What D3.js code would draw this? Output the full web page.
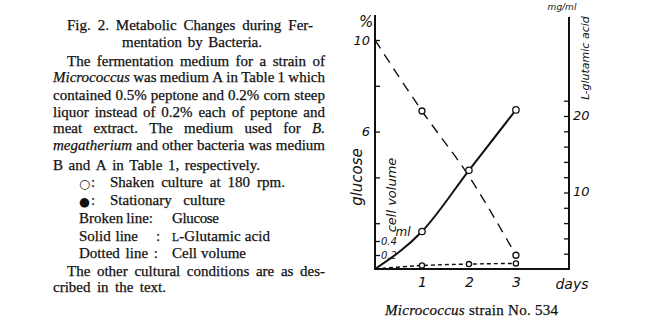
<!DOCTYPE html>
<html><head><meta charset="utf-8">
<script src="https://cdn.jsdelivr.net/npm/d3@7"></script>
<style>
html,body{margin:0;padding:0;background:#fff;}
svg{display:block;}
.txt{font-family:"Liberation Serif","Times New Roman",serif;font-size:15px;fill:#111;stroke:#111;stroke-width:0.25px;}
.hand{font-family:"DejaVu Sans",sans-serif;font-style:italic;fill:#111;}
</style></head>
<body>
<svg id="c" width="646" height="324"></svg>
<script>
// ---------- data ----------
const days        = [0, 1, 2, 3];
const glucose     = [10, 6.9, 4.05, 0.6];     // % (broken line)
const glucoseMark = [false, true, false, true];
const glutamic    = [0, 4.9, 12.9, 20.8];     // mg/ml (solid line)
const glutMark    = [false, true, true, true];
const cellVolume  = [0, 0.05, 0.07, 0.08];    // ml (dotted line)
const cellMark    = [false, true, true, true];
const xTicks      = [1, 2, 3];
const glucoseTicks = [2, 4, 6, 8, 10];
const glucoseLabels = [6, 10];
const glutTicks   = [2, 4, 6, 8, 10, 12, 14, 16, 18, 20, 22];
const glutLabels  = [10, 20];
const cellTicks   = [0.2, 0.4];

const svg = d3.select("#c");

// ---------- caption text (left column) ----------
const textLines = [
  {x0:67, x1:313, y:30, parts:[["Fig. 2.",0],["Metabolic Changes during Fer-",0]]},
  {x0:122, x1:262, y:47, parts:[["mentation by Bacteria.",0]]},
  {x0:67, x1:325, y:66, parts:[["The fermentation medium for a strain of",0]]},
  {x0:53, x1:325, y:82, parts:[["Micrococcus",1],["was medium A in Table 1 which",0]]},
  {x0:53, x1:325, y:100, parts:[["contained 0.5% peptone and 0.2% corn steep",0]]},
  {x0:53, x1:325, y:117, parts:[["liquor instead of 0.2% each of peptone and",0]]},
  {x0:53, x1:325, y:133, parts:[["meat extract. The medium used for",0],["B.",1]]},
  {x0:53, x1:325, y:150, parts:[["megatherium",1],["and other bacteria was medium",0]]},
  {x0:53, x1:260, y:170, parts:[["B and A in Table 1, respectively.",0]]},
  {x0:91, x1:null, y:187, parts:[[":",0]]},
  {x0:110, x1:285, y:187, parts:[["Shaken culture at 180 rpm.",0]]},
  {x0:91, x1:null, y:205, parts:[[":",0]]},
  {x0:110, x1:225, y:205, parts:[["Stationary culture",0]]},
  {x0:79, x1:153, y:223, parts:[["Broken line:",0]]},
  {x0:172, x1:219, y:223, parts:[["Glucose",0]]},
  {x0:79, x1:138, y:241, parts:[["Solid line",0]]},
  {x0:156, x1:null, y:241, parts:[[":",0]]},
  {x0:79, x1:158, y:258, parts:[["Dotted line :",0]]},
  {x0:172, x1:246, y:258, parts:[["Cell volume",0]]},
  {x0:67, x1:325, y:276, parts:[["The other cultural conditions are as des-",0]]},
  {x0:53, x1:166, y:292, parts:[["cribed in the text.",0]]}
];
// legend symbols (open = shaken, filled = stationary)
const legendSymbols = [{sym:"○", y:187}, {sym:"●", y:205}];

const measure = svg.append("text").attr("class","txt").attr("x",-1000).attr("y",-1000);
function wordWidth(w, it){
  measure.text(w).style("font-style", it ? "italic" : "normal");
  return measure.node().getComputedTextLength();
}
const tg = svg.append("g");
textLines.forEach(L => {
  const words = [];
  L.parts.forEach(p => p[0].split(/\s+/).filter(s=>s).forEach(w => words.push({w, it:p[1]})));
  words.forEach(d => d.wd = wordWidth(d.w, d.it));
  if (L.x1 === null) {
    tg.append("text").attr("class","txt").attr("x",L.x0).attr("y",L.y).text(words[0].w);
    return;
  }
  const span = L.x1 - L.x0;
  const sum = d3.sum(words, d=>d.wd);
  if (words.length === 1) {
    tg.append("text").attr("class","txt").attr("x",L.x0).attr("y",L.y)
      .style("font-style", words[0].it?"italic":"normal")
      .attr("textLength", span).attr("lengthAdjust","spacing").text(words[0].w);
    return;
  }
  const minGap = 3;
  let k = 1;
  if (sum + minGap*(words.length-1) > span) k = (span - minGap*(words.length-1))/sum;
  const gap = (span - sum*k)/(words.length-1);
  let x = L.x0;
  words.forEach(d => {
    const t = tg.append("text").attr("class","txt").attr("x",x).attr("y",L.y)
      .style("font-style", d.it?"italic":"normal").text(d.w);
    if (k < 1) t.attr("textLength", d.wd*k).attr("lengthAdjust","spacingAndGlyphs");
    x += d.wd*k + gap;
  });
});
legendSymbols.forEach(s => {
  tg.append("text").attr("x",79).attr("y",s.y+0.5)
    .style("font-family","DejaVu Sans, sans-serif").style("font-size","12.5px").attr("fill","#111")
    .text(s.sym);
});
// L-Glutamic acid with small-cap L
const lg = tg.append("text").attr("class","txt").attr("x",172).attr("y",241)
  .attr("textLength", 98).attr("lengthAdjust","spacing");
lg.append("tspan").style("font-size","11.5px").text("L");
lg.append("tspan").text("-Glutamic acid");
measure.remove();

// ---------- chart ----------
const x  = d3.scaleLinear().domain([0, 4.13]).range([375, 569]);
const yG = d3.scaleLinear().domain([0, 10]).range([269, 40]);
const yA = d3.scaleLinear().domain([0, 20]).range([269, 116]);
const yC = d3.scaleLinear().domain([0, 0.2]).range([269, 255]);

const g = svg.append("g");

// axes lines
g.append("line").attr("x1",x(0)).attr("x2",x(0)).attr("y1",15).attr("y2",yG(0)+1)
  .attr("stroke","#111").attr("stroke-width",2);
g.append("line").attr("x1",x(4.13)).attr("x2",x(4.13)).attr("y1",17).attr("y2",yG(0)+1)
  .attr("stroke","#111").attr("stroke-width",2);
g.append("line").attr("x1",x(0)-1).attr("x2",x(4.13)+1).attr("y1",yG(0)).attr("y2",yG(0))
  .attr("stroke","#111").attr("stroke-width",2);

function styleAxis(sel, fs){
  sel.select(".domain").remove();
  sel.selectAll(".tick line").attr("stroke","#111").attr("stroke-width",1.3);
  sel.selectAll(".tick text").attr("class","hand").style("font-size",fs+"px")
     .attr("fill","#111").style("font-family","DejaVu Sans, sans-serif").style("font-style","italic");
}

// left glucose axis: ticks inward, labels outside
const axG = g.append("g").attr("transform",`translate(${x(0)},0)`)
  .call(d3.axisLeft(yG).tickValues(glucoseTicks).tickSizeInner(-5).tickSizeOuter(0).tickPadding(5)
    .tickFormat(d => glucoseLabels.includes(d) ? d : ""));
styleAxis(axG, 13);

// cell volume axis: ticks + labels inside
const axC = g.append("g").attr("transform",`translate(${x(0)},0)`)
  .call(d3.axisRight(yC).tickValues(cellTicks).tickSizeInner(5).tickSizeOuter(0).tickPadding(1)
    .tickFormat(d3.format(".1f")));
styleAxis(axC, 10);

// right glutamic axis: ticks inward, labels outside
const axA = g.append("g").attr("transform",`translate(${x(4.13)},0)`)
  .call(d3.axisRight(yA).tickValues(glutTicks).tickSizeInner(-5).tickSizeOuter(0).tickPadding(4)
    .tickFormat(d => glutLabels.includes(d) ? d : ""));
styleAxis(axA, 13);
axA.selectAll(".tick text").attr("dy","0.25em");

// x axis
const axX = g.append("g").attr("transform",`translate(0,${yG(0)})`)
  .call(d3.axisBottom(x).tickValues(xTicks).tickSize(0).tickPadding(8).tickFormat(d3.format("d")));
styleAxis(axX, 14);

// lines
const lineG = d3.line().x((d,i)=>x(days[i])).y(d=>yG(d)).curve(d3.curveMonotoneX);
const lineA = d3.line().x((d,i)=>x(days[i])).y(d=>yA(d)).curve(d3.curveMonotoneX);
const lineC = d3.line().x((d,i)=>x(days[i])).y(d=>yC(d)).curve(d3.curveMonotoneX);

g.append("path").attr("d", lineG(glucose)).attr("fill","none").attr("stroke","#111")
  .attr("stroke-width",1.4).attr("stroke-dasharray","10,7");
g.append("path").attr("d", lineA(glutamic)).attr("fill","none").attr("stroke","#111")
  .attr("stroke-width",2);
g.append("path").attr("d", lineC(cellVolume)).attr("fill","none").attr("stroke","#111")
  .attr("stroke-width",1.4).attr("stroke-dasharray","4,3");

function markers(vals, flags, ys, r){
  g.selectAll(null).data(vals.map((v,i)=>({v,i})).filter(d=>flags[d.i])).enter()
    .append("circle").attr("cx",d=>x(days[d.i])).attr("cy",d=>ys(d.v)).attr("r",r)
    .attr("fill","#fff").attr("stroke","#111").attr("stroke-width",1.3);
}
markers(glucose, glucoseMark, yG, 3);
markers(glutamic, glutMark, yA, 3.2);
markers(cellVolume, cellMark, yC, 2.6);

// axis titles
const hand = (t,x0,y0,fs,rot) => g.append("text").attr("class","hand")
  .attr("transform",`translate(${x0},${y0}) rotate(${rot||0})`)
  .attr("text-anchor","middle").style("font-size",fs+"px").text(t);
hand("%", 366, 27, 15);
hand("glucose", 362, 177, 15, -90);
hand("cell volume", 396, 195, 13, -90);
hand("ml", 403, 236, 12);
hand("L-glutamic acid", 589, 58, 11, -90);
hand("mg/ml", 562, 10, 9);
hand("days", 572, 289, 14);

// bottom caption
const cap = svg.append("text").attr("class","txt").attr("x",385).attr("y",315)
  .attr("textLength",173).attr("lengthAdjust","spacing");
cap.append("tspan").style("font-style","italic").text("Micrococcus");
cap.append("tspan").text(" strain No. 534");
</script>
</body></html>
